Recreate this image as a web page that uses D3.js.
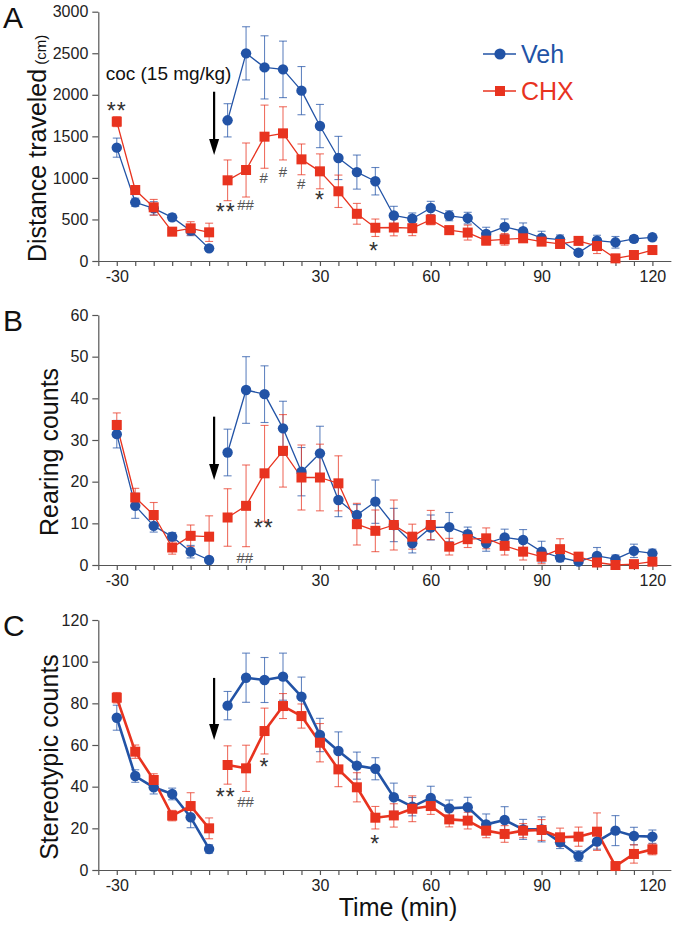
<!DOCTYPE html>
<html><head><meta charset="utf-8">
<script src="https://cdn.jsdelivr.net/npm/d3@7"></script>
<style>
body{margin:0;background:#fff;}
svg{display:block;font-family:"Liberation Sans",Arial,Helvetica,sans-serif;}
</style>
</head><body>
<svg id="chart" width="674" height="925"></svg>
<script>
// ---------- DATA ----------
const times = [-30,-25,-20,-15,-10,-5,5,10,15,20,25,30,35,40,45,50,55,60,65,70,75,80,85,90,95,100,105,110,115,120];
const xTickLabels = [-30,30,60,90,120];
const seriesNames = ["Veh","CHX"];

const distVeh    = [1364,706,634,525,365,152, 1693,2499,2330,2306,2050,1624,1240,1070,960,548,508,638,544,516,326,411,358,278,258,100,245,225,266,285];
const distVehErr = [115,50,80,40,60,30, 200,320,380,340,290,260,260,205,165,110,70,80,60,70,80,95,100,80,55,30,65,70,40,40];
const distCHX    = [1677,854,646,353,393,345, 971,1095,1496,1536,1223,1079,839,568,400,403,395,496,371,342,245,261,273,233,205,242,180,32,72,132];
const distCHXErr = [60,50,95,40,80,110, 245,325,380,320,185,210,195,125,105,100,90,60,50,90,50,70,40,45,40,40,90,20,25,30];

const rearVeh    = [31.4,14.2,9.4,6.8,3.2,1.2, 27.0,42.0,41.0,32.8,22.4,26.8,15.6,12.0,15.2,9.6,5.2,9.0,9.1,7.4,5.2,6.6,6.0,3.2,1.8,0.8,2.2,1.4,3.4,2.8];
const rearVehErr = [3.3,3,1.5,1,1.5,0.5, 5.6,8,6.8,6.5,5.8,6.5,4,2.5,5.2,4,2.3,3,3.5,1.7,1.9,2,2.5,2.5,1,0.5,2,1,1.6,1];
const rearCHX    = [33.6,16.2,12.0,4.2,7.0,6.8, 11.4,14.2,22.0,27.4,21.0,21.0,19.6,9.8,8.2,9.6,6.8,9.6,4.4,6.2,6.4,4.6,3.2,2.0,3.8,2.0,0.6,0,0.2,0.8];
const rearCHXErr = [2.9,2.2,3,1.6,2.6,5, 6.9,9.8,11.5,8.7,7.8,8,6.6,5,5,6,3,3.5,2,2,2.5,2.2,2,1.7,2.5,1,0.5,0.5,0.5,0.5];

const stereoVeh    = [73.1,45.1,39.7,36.5,25.3,10.1, 78.9,92.3,91.2,92.8,83.2,64.8,57.1,50.1,48.6,34.9,30.4,34.6,29.6,30.1,21.9,24.0,19.5,19.5,13.3,6.7,13.6,18.9,16.3,16.0];
const stereoVehErr = [6,3,3.2,2.8,5,2, 6.8,11.8,10.8,11.3,9.4,8,9.2,6.5,5.3,6.8,4.4,5.6,4,4.8,5,6.4,4.8,6,3,2.5,3.6,7.2,4.2,3.2];
const stereoCHX    = [82.7,56.8,43.2,26.1,30.7,20.0, 50.4,48.8,66.7,78.7,73.9,61.1,48.3,39.7,25.1,26.2,29.4,30.7,24.3,23.7,18.9,17.3,18.9,19.2,15.7,16.0,18.4,1.9,7.7,9.9];
const stereoCHXErr = [2.5,3.2,3,2.5,6.4,5, 9.2,11.1,11,6,5.8,9.2,8.3,7,5.4,5.6,6.2,4,3.6,4,3.4,4,3.4,5,4.4,4.6,9,1.5,4.4,2.6];

const yTicksA = [0,500,1000,1500,2000,2500,3000];
const yTicksB = [0,10,20,30,40,50,60];
const yTicksC = [0,20,40,60,80,100,120];

// annotations: [text, index position, value]
const annotA = [["**",0,1853],["**",5.9,640],["##",6.97,680],["#",7.96,999],["#",8.99,1071],["#",9.98,927],["*",11,782],["*",13.93,173]];
const annotB = [["**",7.96,9.8],["##",6.93,1.75]];
const annotC = [["**",5.9,37.1],["##",6.97,32.8],["*",8.0,51.5],["*",14.0,14.4]];

// ---------- STYLE / LAYOUT ----------
const BLUE = "#2253a6", RED = "#e8331f";
const svg = d3.select("#chart");
const nIdx = times.length;
const x = d3.scaleLinear().domain([-1, 30]).range([98.3, 98.3 + 31*18.47]);

const panels = [
  {letter:"A", top:11.7, bottom:261, max:3000, ticks:yTicksA, veh:distVeh, vehErr:distVehErr, chx:distCHX, chxErr:distCHXErr,
   lw:1.3, annot:annotA, arrow:[2037,1276], label:"Distance traveled", unit:"(cm)", labelX:45.7, letterY:28},
  {letter:"B", top:315, bottom:565, max:60, ticks:yTicksB, veh:rearVeh, vehErr:rearVehErr, chx:rearCHX, chxErr:rearCHXErr,
   lw:1.3, annot:annotB, arrow:[35.6,20.4], label:"Rearing counts", labelX:57.5, letterY:331},
  {letter:"C", top:620, bottom:870, max:120, ticks:yTicksC, veh:stereoVeh, vehErr:stereoVehErr, chx:stereoCHX, chxErr:stereoCHXErr,
   lw:2.6, annot:annotC, arrow:[92.2,62.4], label:"Stereotypic counts", labelX:57.5, letterY:636}
];

panels.forEach(p => {
  const y = d3.scaleLinear().domain([0, p.max]).range([p.bottom, p.top]);
  const g = svg.append("g");

  // y axis
  const ya = g.append("g").attr("transform", `translate(${x(-1)},0)`)
    .call(d3.axisLeft(y).tickValues(p.ticks).tickFormat(d3.format("d")).tickSize(6).tickSizeOuter(0).tickPadding(4));
  // x axis
  const xa = g.append("g").attr("transform", `translate(0,${p.bottom})`)
    .call(d3.axisBottom(x).tickValues(d3.range(-1, nIdx)).tickSize(5).tickSizeOuter(0).tickPadding(5)
      .tickFormat(i => (i >= 0 && xTickLabels.includes(times[i])) ? String(times[i]) : ""));
  [ya, xa].forEach(a => {
    a.selectAll("path,line").attr("stroke", "#555").attr("stroke-width", 1.2);
    a.selectAll("text").attr("font-size", 16).attr("fill", "#222")
      .attr("font-family", '"Liberation Sans",Arial,sans-serif');
  });

  // panel letter
  g.append("text").attr("x", 3).attr("y", p.letterY).attr("font-size", 30).attr("fill", "#111").text(p.letter);

  // y label
  const yl = g.append("text").attr("transform", `translate(${p.labelX},${(p.top+p.bottom)/2 + 12}) rotate(-90)`)
    .attr("text-anchor", "middle").attr("fill", "#111").attr("font-size", 25);
  yl.append("tspan").text(p.label);
  if (p.unit) yl.append("tspan").attr("font-size", 15).text(" " + p.unit);

  // series
  const series = [
    {name:seriesNames[0], vals:p.veh, err:p.vehErr, color:BLUE, shape:"circle"},
    {name:seriesNames[1], vals:p.chx, err:p.chxErr, color:RED, shape:"square"}
  ];
  // error bars
  series.forEach(s => {
    const eg = g.append("g").attr("stroke", s.color).attr("stroke-opacity", 0.7).attr("stroke-width", 1.1);
    s.vals.forEach((v, i) => {
      const cx = x(i), y1 = y(v + s.err[i]), y2 = y(Math.max(0, v - s.err[i]));
      eg.append("line").attr("x1", cx).attr("x2", cx).attr("y1", y1).attr("y2", y2);
      eg.append("line").attr("x1", cx-4).attr("x2", cx+4).attr("y1", y1).attr("y2", y1);
      eg.append("line").attr("x1", cx-4).attr("x2", cx+4).attr("y1", y2).attr("y2", y2);
    });
  });
  // lines (pre and post injection segments)
  const line = d3.line().x(d => x(d.i)).y(d => y(d.v));
  series.forEach(s => {
    const pts = s.vals.map((v, i) => ({i, v}));
    [pts.filter(d => times[d.i] < 0), pts.filter(d => times[d.i] > 0)].forEach(seg => {
      g.append("path").datum(seg).attr("d", line).attr("fill", "none")
        .attr("stroke", s.color).attr("stroke-width", p.lw).attr("stroke-linejoin", "round");
    });
  });
  // markers
  series.forEach(s => {
    const mg = g.append("g").attr("fill", s.color);
    s.vals.forEach((v, i) => {
      if (s.shape === "circle") mg.append("circle").attr("cx", x(i)).attr("cy", y(v)).attr("r", 5.2);
      else mg.append("rect").attr("x", x(i) - 5).attr("y", y(v) - 5).attr("width", 10).attr("height", 10);
    });
  });

  // arrow (cocaine injection)
  const ax = x(5.27), aTop = y(p.arrow[0]), aTip = y(p.arrow[1]);
  g.append("line").attr("x1", ax).attr("x2", ax).attr("y1", aTop).attr("y2", aTip - 12)
    .attr("stroke", "#000").attr("stroke-width", 2.2);
  g.append("path").attr("d", `M${ax-5},${aTip-16} L${ax+5},${aTip-16} L${ax},${aTip} Z`).attr("fill", "#000");

  // significance annotations
  p.annot.forEach(([t, i, v]) => {
    const cy = y(v);
    if (t.includes("*")) {
      g.append("text").attr("x", x(i)).attr("y", cy + 12).attr("text-anchor", "middle")
        .attr("font-size", 23).attr("fill", "#333").attr("letter-spacing", "1px").text(t);
    } else {
      g.append("text").attr("x", x(i)).attr("y", cy + 5.5).attr("text-anchor", "middle")
        .attr("font-size", 15).attr("fill", "#555").attr("font-weight", 300).text(t);
    }
  });

  if (p.letter === "A") {
    const yA = y;
    g.append("text").attr("x", x(2.8)).attr("y", yA(2178)).attr("text-anchor", "middle")
      .attr("font-size", 19).attr("fill", "#111").text("coc (15 mg/kg)");
    // legend
    const leg = [{name:seriesNames[0], color:BLUE, shape:"circle", cy:54},
                 {name:seriesNames[1], color:RED, shape:"square", cy:91}];
    leg.forEach(l => {
      g.append("line").attr("x1", 483).attr("x2", 516).attr("y1", l.cy).attr("y2", l.cy)
        .attr("stroke", l.color).attr("stroke-width", 1.5);
      if (l.shape === "circle") g.append("circle").attr("cx", 500).attr("cy", l.cy).attr("r", 5.6).attr("fill", l.color);
      else g.append("rect").attr("x", 495).attr("y", l.cy - 5).attr("width", 10).attr("height", 10).attr("fill", l.color);
      g.append("text").attr("x", 521).attr("y", l.cy + 9).attr("font-size", 25).attr("fill", l.color).text(l.name);
    });
  }
});

// x axis title
svg.append("text").attr("x", 398).attr("y", 916).attr("text-anchor", "middle")
  .attr("font-size", 25).attr("fill", "#111").text("Time (min)");
</script>
</body></html>
